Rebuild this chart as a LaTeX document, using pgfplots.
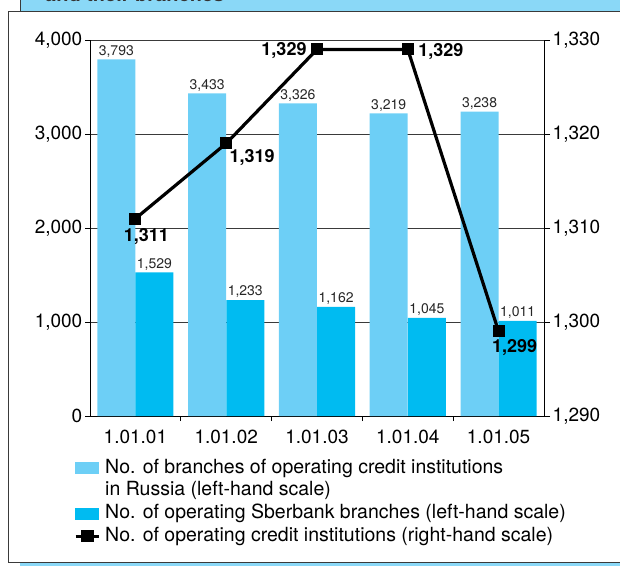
\documentclass[border=0pt]{standalone}
\usepackage{pgfplots}
\pgfplotsset{compat=1.18}
\usepackage{fontspec}
\setmainfont{TeX Gyre Heros}
\definecolor{lightbar}{HTML}{6DCFF6}
\definecolor{darkbar}{HTML}{00BBF1}
\definecolor{band}{HTML}{8AD8F7}
\definecolor{gridc}{HTML}{3A3A3A}
\begin{document}
\begin{tikzpicture}[x=1pt,y=1pt]
\useasboundingbox (0,0) rectangle (620,565);
\begin{scope}
\clip (0,0) rectangle (620,565);
\fill[band] (20,553) rectangle (630,575);
\draw[gridc, line width=1pt] (20,553) -- (20,575);
\node[anchor=base west, inner sep=0pt, font=\fontsize{20}{24}\selectfont\bfseries, text=black!80] at (45,563) {and their branches};
\fill[band] (20,-5) rectangle (630,3);
\draw[gridc, line width=1pt] (8,3) rectangle (640,553);
\end{scope}
\begin{axis}[
  at={(90pt,149pt)}, anchor=south west, scale only axis,
  width=454pt, height=376pt,
  xmin=-0.5, xmax=4.5, ymin=0, ymax=4000,
  axis x line*=bottom, axis y line*=left,
  axis line style={black, line width=0.8pt},
  ytick={0,1000,...,4000}, ymajorgrids,
  grid style={gridc, line width=0.8pt},
  xtick={0.5,1.5,2.5,3.5}, xticklabels={},
  extra x ticks={0,1,2,3,4},
  extra x tick labels={1.01.01,1.01.02,1.01.03,1.01.04,1.01.05},
  extra x tick style={major tick length=0pt, grid=none},
  tick align=outside, major tick length=5pt,
  tick style={black, line width=0.8pt},
  /pgf/number format/1000 sep={,},
  /pgf/number format/assume math mode=true,
  tick label style={font=\fontsize{19}{22}\selectfont, inner sep=2.5pt},
  xticklabel style={yshift=-11pt},
  ybar, bar width=38pt, bar shift=0pt,
  nodes near coords,
  every node near coord/.append style={font=\fontsize{14}{16}\selectfont, text=black!85, inner sep=2pt},
]
\addplot[fill=lightbar, draw=none] coordinates {(-0.21,3793) (0.79,3433) (1.79,3326) (2.79,3219) (3.79,3238)};
\addplot[fill=darkbar, draw=none] coordinates {(0.21,1529) (1.21,1233) (2.21,1162) (3.21,1045) (4.21,1011)};
\end{axis}
\begin{axis}[
  at={(90pt,149pt)}, anchor=south west, scale only axis,
  width=454pt, height=376pt,
  xmin=-0.5, xmax=4.5, ymin=1290, ymax=1330,
  axis y line*=right, axis x line=none,
  axis line style={black, line width=0.8pt},
  ytick={1290,1300,...,1330},
  tick align=outside, major tick length=6pt,
  tick style={black, line width=0.8pt},
  /pgf/number format/1000 sep={,},
  /pgf/number format/assume math mode=true,
  tick label style={font=\fontsize{19}{22}\selectfont, inner sep=2.5pt},
  legend style={draw=none, fill=none, inner sep=0pt, outer sep=0pt,
    at={(-0.0352,-0.1117)}, anchor=north west, row sep=2.7pt,
    nodes={inner sep=1pt, text height=14pt, text depth=4pt, font=\fontsize{19.5}{23}\selectfont},
  },
  legend cell align=left,
]
\addlegendimage{legend image code/.code={\fill[lightbar] (0pt,-5.5pt) rectangle (23pt,5.5pt); \path (27pt,0pt);}}
\addlegendentry{No. of branches of operating credit institutions}
\addlegendimage{empty legend}
\addlegendentry{in Russia (left-hand scale)}
\addlegendimage{legend image code/.code={\fill[darkbar] (0pt,-5.5pt) rectangle (23pt,5.5pt); \path (27pt,0pt);}}
\addlegendentry{No. of operating Sberbank branches (left-hand scale)}
\addplot[black, line width=3.2pt, mark=square*, mark size=5.5pt, mark options={line width=0pt},
  legend image code/.code={\draw[black, line width=3.2pt] (0pt,0pt) -- (23pt,0pt); \fill[black] (6.5pt,-4.5pt) rectangle (16.5pt,4.5pt); \path (27pt,0pt);}]
  coordinates {(0,1311) (1,1319) (2,1329) (3,1329) (4,1299)};
\addlegendentry{No. of operating credit institutions (right-hand scale)}
\begin{scope}[every node/.style={font=\fontsize{18}{21}\selectfont\bfseries, inner sep=0pt}]
\node[xshift=11pt, yshift=-18pt] at (axis cs:0,1311) {1,311};
\node[xshift=26pt, yshift=-14pt] at (axis cs:1,1319) {1,319};
\node[xshift=-33pt, yshift=-1pt] at (axis cs:2,1329) {1,329};
\node[xshift=33pt, yshift=-2pt] at (axis cs:3,1329) {1,329};
\node[xshift=16pt, yshift=-16pt] at (axis cs:4,1299) {1,299};
\end{scope}
\end{axis}
\end{tikzpicture}
\end{document}
